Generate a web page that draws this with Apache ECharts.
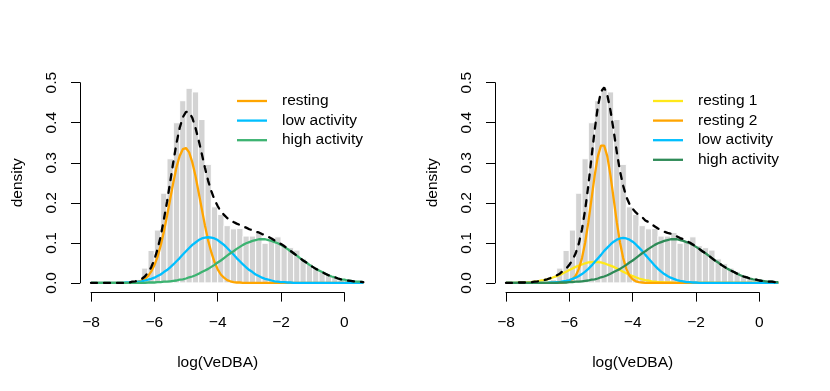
<!DOCTYPE html>
<html><head><meta charset="utf-8">
<script src="https://cdn.jsdelivr.net/npm/echarts@6/dist/echarts.min.js"></script>
<style>html,body{margin:0;padding:0;background:#fff}#c{width:830px;height:391px}</style>
</head><body><div id="c"></div>
<script>
// ---- histogram of log(VeDBA) (density), bins of width 0.2 ----
const binWidth = 0.2;
const binStarts = [-6.6,-6.4,-6.2,-6.0,-5.8,-5.6,-5.4,-5.2,-5.0,-4.8,-4.6,-4.4,-4.2,-4.0,-3.8,-3.6,-3.4,-3.2,-3.0,-2.8,-2.6,-2.4,-2.2,-2.0,-1.8,-1.6,-1.4,-1.2,-1.0,-0.8,-0.6,-0.4,-0.2,0.0,0.2];
const binDensity = [0.008,0.037,0.081,0.132,0.224,0.31,0.40,0.455,0.486,0.477,0.408,0.296,0.190,0.171,0.143,0.135,0.136,0.117,0.117,0.126,0.099,0.105,0.115,0.093,0.088,0.082,0.060,0.048,0.037,0.028,0.020,0.014,0.009,0.006,0.003];

// ---- x positions at which the component curves were read ----
const curveX = [
 -8.0,-7.9,-7.8,-7.7,-7.6,-7.5,-7.4,-7.3,-7.2,-7.1,
 -7.0,-6.9,-6.8,-6.7,-6.6,-6.5,-6.4,-6.3,-6.2,-6.1,
 -6.0,-5.9,-5.8,-5.7,-5.6,-5.5,-5.4,-5.3,-5.2,-5.1,
 -5.0,-4.9,-4.8,-4.7,-4.6,-4.5,-4.4,-4.3,-4.2,-4.1,
 -4.0,-3.9,-3.8,-3.7,-3.6,-3.5,-3.4,-3.3,-3.2,-3.1,
 -3.0,-2.9,-2.8,-2.7,-2.6,-2.5,-2.4,-2.3,-2.2,-2.1,
 -2.0,-1.9,-1.8,-1.7,-1.6,-1.5,-1.4,-1.3,-1.2,-1.1,
 -1.0,-0.9,-0.8,-0.7,-0.6,-0.5,-0.4,-0.3,-0.2,-0.1,
 0.0,0.1,0.2,0.3,0.4,0.5,0.6];

// ---- left panel: 3-state model ----
const restingL = [
 0,0,0,0,0,0,0,0,0,0,
 0,0,0,0.001,0.002,0.003,0.006,0.010,0.017,0.028,
 0.044,0.065,0.093,0.128,0.167,0.209,0.251,0.289,0.317,0.334,
 0.337,0.326,0.301,0.267,0.226,0.184,0.143,0.106,0.076,0.052,
 0.034,0.021,0.013,0.007,0.004,0.002,0.001,0.001,0,0,
 0,0,0,0,0,0,0,0,0,0,
 0,0,0,0,0,0,0,0,0,0,
 0,0,0,0,0,0,0,0,0,0,
 0,0,0,0,0,0,0];
const lowL = [
 0,0,0,0,0,0,0,0,0,0,
 0,0.001,0.001,0.002,0.002,0.003,0.004,0.006,0.008,0.010,
 0.013,0.017,0.021,0.027,0.032,0.039,0.046,0.054,0.062,0.071,
 0.079,0.087,0.095,0.101,0.107,0.111,0.113,0.114,0.113,0.111,
 0.107,0.101,0.095,0.087,0.079,0.071,0.062,0.054,0.046,0.039,
 0.032,0.027,0.021,0.017,0.013,0.010,0.008,0.006,0.004,0.003,
 0.002,0.002,0.001,0.001,0,0,0,0,0,0,
 0,0,0,0,0,0,0,0,0,0,
 0,0,0,0,0,0,0];
const highL = [
 0,0,0,0,0,0,0,0,0,0,
 0,0,0,0,0,0,0,0,0.001,0.001,
 0.001,0.002,0.002,0.003,0.003,0.004,0.005,0.006,0.008,0.009,
 0.011,0.014,0.016,0.019,0.023,0.027,0.031,0.035,0.040,0.045,
 0.051,0.056,0.062,0.068,0.074,0.079,0.085,0.090,0.095,0.099,
 0.102,0.105,0.107,0.109,0.109,0.109,0.107,0.105,0.102,0.099,
 0.095,0.090,0.085,0.079,0.074,0.068,0.062,0.056,0.051,0.045,
 0.040,0.035,0.031,0.027,0.023,0.019,0.016,0.014,0.011,0.009,
 0.008,0.006,0.005,0.004,0.003,0.003,0.002];

// ---- right panel: 4-state model ----
const resting1R = [
 0,0,0,0,0.001,0.001,0.001,0.002,0.002,0.003,
 0.004,0.006,0.007,0.009,0.011,0.014,0.017,0.020,0.024,0.028,
 0.032,0.036,0.040,0.043,0.046,0.049,0.051,0.052,0.0525,0.052,
 0.051,0.049,0.046,0.043,0.040,0.036,0.032,0.028,0.024,0.020,
 0.017,0.014,0.011,0.009,0.007,0.006,0.004,0.003,0.002,0.002,
 0.001,0.001,0.001,0,0,0,0,0,0,0,
 0,0,0,0,0,0,0,0,0,0,
 0,0,0,0,0,0,0,0,0,0,
 0,0,0,0,0,0,0];
const resting2R = [
 0,0,0,0,0,0,0,0,0,0,
 0,0,0,0,0,0,0,0,0.001,0.002,
 0.004,0.009,0.018,0.035,0.062,0.101,0.151,0.210,0.268,0.316,
 0.343,0.343,0.316,0.268,0.210,0.151,0.101,0.062,0.035,0.018,
 0.009,0.004,0.002,0.001,0,0,0,0,0,0,
 0,0,0,0,0,0,0,0,0,0,
 0,0,0,0,0,0,0,0,0,0,
 0,0,0,0,0,0,0,0,0,0,
 0,0,0,0,0,0,0];
const lowR = [
 0,0,0,0,0,0,0,0,0,0,
 0,0,0,0,0.001,0.001,0.002,0.002,0.004,0.005,
 0.007,0.010,0.013,0.017,0.022,0.028,0.035,0.043,0.052,0.061,
 0.070,0.080,0.088,0.096,0.103,0.108,0.111,0.1125,0.111,0.108,
 0.103,0.096,0.088,0.080,0.070,0.061,0.052,0.043,0.035,0.028,
 0.022,0.017,0.013,0.010,0.007,0.005,0.004,0.002,0.002,0.001,
 0.001,0,0,0,0,0,0,0,0,0,
 0,0,0,0,0,0,0,0,0,0,
 0,0,0,0,0,0,0];
const highR = [
 0,0,0,0,0,0,0,0,0,0,
 0,0,0,0,0,0,0,0.001,0.001,0.001,
 0.002,0.002,0.003,0.003,0.004,0.005,0.006,0.008,0.009,0.011,
 0.014,0.016,0.019,0.023,0.027,0.031,0.035,0.040,0.045,0.051,
 0.056,0.062,0.068,0.074,0.079,0.085,0.090,0.095,0.099,0.102,
 0.105,0.107,0.109,0.109,0.109,0.107,0.105,0.102,0.099,0.095,
 0.090,0.085,0.079,0.074,0.068,0.062,0.056,0.051,0.045,0.040,
 0.035,0.031,0.027,0.023,0.019,0.016,0.014,0.011,0.009,0.008,
 0.006,0.005,0.004,0.003,0.003,0.002,0.002];

const xTickValues = [-8,-6,-4,-2,0];
const yTickValues = [0,0.1,0.2,0.3,0.4,0.5];

// ---- build ----
const FONT = "'Liberation Sans', Arial, Helvetica, sans-serif";
const FS = 15.5;
const C = {orange:'#FFA500', blue:'#00BFFF', green:'#3CB371', dgreen:'#2E8B57', yellow:'#FFE81A'};

const pairs = arr => curveX.map((x,i)=>[x, arr[i]]);
const sumOf = (...arrs) => curveX.map((x,i)=>[x, +arrs.reduce((s,a)=>s+a[i],0).toFixed(4)]);
const histData = binStarts.map((s,i)=>[s, +(s+binWidth).toFixed(2), binDensity[i]]);

function renderHist(params, api){
  const x0=api.value(0), x1=api.value(1), h=api.value(2);
  const p0=api.coord([x0,h]), p1=api.coord([x1,0]);
  return {type:'rect', shape:{x:p0[0], y:p0[1], width:p1[0]-p0[0], height:p1[1]-p0[1]},
    style:{fill:'#D3D3D3', stroke:'#FFFFFF', lineWidth:1}};
}
function histSeries(idx){
  return {type:'custom', name:'hist', xAxisIndex:idx, yAxisIndex:idx, data:histData,
    encode:{x:[0,1], y:2}, renderItem:renderHist, silent:true, z:1};
}
function lineSeries(name, idx, arr, color){
  return {type:'line', name, xAxisIndex:idx, yAxisIndex:idx, data:pairs(arr),
    symbol:'none', showSymbol:false, clip:false, silent:true, z:3,
    lineStyle:{color, width:2.3}, itemStyle:{color}};
}
function totalSeries(idx, data){
  return {type:'line', name:'total', xAxisIndex:idx, yAxisIndex:idx, data,
    symbol:'none', showSymbol:false, clip:false, silent:true, z:4,
    lineStyle:{color:'#000', width:2.3, type:[6,7], cap:'round'}};
}

const plotTop = 82.7, plotH = 200.2;
const panels = [{left:91}, {left:506}];
const grids = [], xAxes = [], yAxes = [];
panels.forEach(p=>{
  grids.push({left:p.left, top:plotTop, width:8.6*31.667, height:plotH});
  grids.push({left:p.left, top:plotTop, width:8*31.667, height:plotH});
});
const dataX = {type:'value', min:-8, max:0.6, show:false};
const dataY = {type:'value', min:0, max:0.5, show:false};
function decoX(gi){
  return {type:'value', gridIndex:gi, min:xTickValues[0], max:xTickValues[xTickValues.length-1], interval:2,
    position:'bottom', offset:9.7,
    axisLine:{show:true, onZero:false, lineStyle:{color:'#000', width:1}},
    axisTick:{show:true, length:9, lineStyle:{color:'#000', width:1}},
    axisLabel:{show:true, margin:22, color:'#000', fontSize:FS, fontFamily:FONT, showMinLabel:true, showMaxLabel:true,
      formatter:v=>String(v).replace('-','\u2212')},
    splitLine:{show:false},
    name:'log(VeDBA)', nameLocation:'middle', nameGap:62,
    nameTextStyle:{color:'#000', fontSize:FS, fontFamily:FONT}};
}
function decoY(gi){
  return {type:'value', gridIndex:gi, min:yTickValues[0], max:yTickValues[yTickValues.length-1], interval:0.1,
    position:'left', offset:11,
    axisLine:{show:true, onZero:false, lineStyle:{color:'#000', width:1}},
    axisTick:{show:true, length:9, lineStyle:{color:'#000', width:1}},
    axisLabel:{show:true, rotate:90, margin:20, color:'#000', fontSize:FS, fontFamily:FONT, showMinLabel:true, showMaxLabel:true,
      formatter:v=>v.toFixed(1)},
    splitLine:{show:false},
    name:'density', nameLocation:'middle', nameGap:54,
    nameTextStyle:{color:'#000', fontSize:FS, fontFamily:FONT}};
}
xAxes.push(Object.assign({gridIndex:0}, dataX), decoX(1), Object.assign({gridIndex:2}, dataX), decoX(3));
yAxes.push(Object.assign({gridIndex:0}, dataY), decoY(1), Object.assign({gridIndex:2}, dataY), decoY(3));

function legendAt(left, items){
  return {left, top:93, orient:'vertical', padding:0, itemWidth:30, itemHeight:2.3, itemGap:3.6,
    selectedMode:false,
    textStyle:{color:'#000', fontSize:FS, fontFamily:FONT, lineHeight:16, padding:[0,0,0,10]},
    data:items.map(([name,color])=>({name, icon:'rect', itemStyle:{color, borderWidth:0}}))};
}

const option = {
  animation:false,
  backgroundColor:'#fff',
  grid:grids, xAxis:xAxes, yAxis:yAxes,
  legend:[
    legendAt(237, [['resting',C.orange],['low activity',C.blue],['high activity',C.green]]),
    legendAt(653, [['resting 1',C.yellow],['resting 2',C.orange],['low activity',C.blue],['high activity',C.dgreen]])
  ],
  series:[
    histSeries(0),
    lineSeries('resting',0,restingL,C.orange),
    lineSeries('low activity',0,lowL,C.blue),
    lineSeries('high activity',0,highL,C.green),
    totalSeries(0, sumOf(restingL,lowL,highL)),
    histSeries(2),
    lineSeries('resting 1',2,resting1R,C.yellow),
    lineSeries('resting 2',2,resting2R,C.orange),
    lineSeries('low activity',2,lowR,C.blue),
    lineSeries('high activity',2,highR,C.dgreen),
    totalSeries(2, sumOf(resting1R,resting2R,lowR,highR))
  ]
};
const chart = echarts.init(document.getElementById('c'), null, {renderer:'canvas'});
chart.setOption(option);
</script></body></html>
